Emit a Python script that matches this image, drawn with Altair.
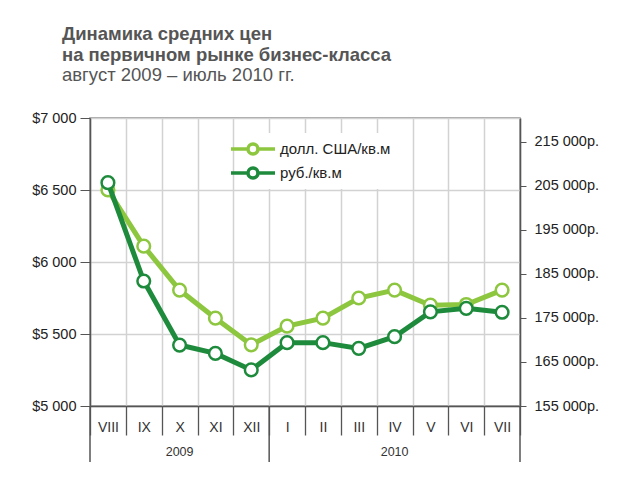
import altair as alt
import pandas as pd

# ---- data ----
months = ["VIII", "IX", "X", "XI", "XII", "I", "II", "III", "IV", "V", "VI", "VII"]
usd_values = [6500, 6110, 5805, 5610, 5425, 5555, 5610, 5750, 5805, 5700, 5705, 5805]
rub_values = [205750, 183400, 168850, 166950, 163200, 169400, 169400, 168100, 170750, 176400, 177200, 176300]
series_names = ["долл. США/кв.м", "руб./кв.м"]
years = ["2009", "2010"]
year_center_month = ["X", "IV"]
year_left_months = ["VIII", "I"]
year_right_months = ["VII"]
usd_ticks = [5000, 5500, 6000, 6500, 7000]
rub_ticks = [155000, 165000, 175000, 185000, 195000, 205000, 215000]

W, H = 430, 288
LIGHT = "#8dc63f"
DARK = "#1e8b3c"
FONT = "Liberation Sans"

usd_df = pd.DataFrame({"month": months, "value": usd_values, "series": series_names[0]})
rub_df = pd.DataFrame({"month": months, "value": rub_values, "series": series_names[1]})
year_df = pd.DataFrame({"month": year_center_month, "year": years})
sepL_df = pd.DataFrame({"month": year_left_months})
sepR_df = pd.DataFrame({"month": year_right_months})

x_axis = alt.Axis(
    tickBand="extent", grid=True, gridColor="#d2d2d2", gridWidth=1.5,
    tickSize=29, tickColor="#555", tickWidth=1.3, domainColor="#555", domainWidth=1.5,
    labelPadding=-8, labelBaseline="middle", labelFontSize=14, labelColor="#333",
    labelAngle=0, title=None,
)
x_scale = alt.Scale(type="band", paddingInner=0, paddingOuter=0)


def xenc(pos=0.5):
    return alt.X("month:N", sort=months, scale=x_scale, axis=x_axis, bandPosition=pos)


legend_path = "M-2.2,0H-0.5M0.5,0H2.2M0.5,0A0.5,0.5 0 1,1 -0.5,0A0.5,0.5 0 1,1 0.5,0"
legend = alt.Legend(
    orient="none", legendX=147, legendY=15, title=None,
    symbolType=legend_path, symbolSize=400, symbolStrokeWidth=3.5,
    symbolFillColor="white", labelFontSize=15, labelColor="#222", labelOffset=15,
    fillColor="white", padding=4, rowPadding=-4,
)
color = alt.Color("series:N", scale=alt.Scale(domain=series_names, range=[LIGHT, DARK]), legend=legend)

usd_y = alt.Y("value:Q", scale=alt.Scale(domain=[5000, 7000], nice=False, zero=False),
              axis=alt.Axis(orient="left", values=usd_ticks, grid=True, gridColor="#d2d2d2", gridWidth=1.5,
                            labelExpr="'$' + replace(format(datum.value, ','), ',', ' ')",
                            tickSize=10, tickColor="#555", domainColor="#555", domainWidth=1.5,
                            labelFontSize=14.5, labelColor="#222", labelPadding=4, title=None))
rub_y = alt.Y("value:Q", scale=alt.Scale(domain=[155000, 220450], nice=False, zero=False),
              axis=alt.Axis(orient="right", values=rub_ticks, grid=False,
                            labelExpr="replace(format(datum.value, ','), ',', ' ') + 'р.'",
                            tickSize=6, tickColor="#555", domainColor="#555", domainWidth=1.5,
                            labelFontSize=14.5, labelColor="#222", labelPadding=8, title=None))

usd_line = alt.Chart(usd_df).mark_line(strokeWidth=5).encode(x=xenc(), y=usd_y, color=color)
usd_pts = alt.Chart(usd_df).mark_point(filled=False, fill="white", fillOpacity=1, size=160, strokeWidth=2.5, opacity=1).encode(
    x=xenc(), y=usd_y, color=color)
rub_line = alt.Chart(rub_df).mark_line(strokeWidth=5).encode(x=xenc(), y=rub_y, color=color)
rub_pts = alt.Chart(rub_df).mark_point(filled=False, fill="white", fillOpacity=1, size=160, strokeWidth=2.5, opacity=1).encode(
    x=xenc(), y=rub_y, color=color)

sepL = alt.Chart(sepL_df).mark_rule(color="#555", strokeWidth=1.5).encode(
    x=xenc(0), y=alt.value(H), y2=alt.value(H + 56))
sepR = alt.Chart(sepR_df).mark_rule(color="#555", strokeWidth=1.5).encode(
    x=xenc(1), y=alt.value(H), y2=alt.value(H + 56))
year_text = alt.Chart(year_df).mark_text(fontSize=12.5, color="#333", baseline="middle").encode(
    x=xenc(), y=alt.value(H + 46), text="year:N")

usd_layer = alt.layer(usd_line, usd_pts)
rub_layer = alt.layer(rub_line, rub_pts)

chart = alt.layer(sepL, sepR, year_text, usd_layer, rub_layer).resolve_scale(y="independent").properties(
    width=W, height=H,
    autosize=alt.AutoSizeParams(type="none"),
    padding={"left": 82, "top": 110, "right": 100, "bottom": 60},
    title=alt.Title(
        text=["Динамика средних цен", "на первичном рынке бизнес-класса"],
        subtitle="август 2009 – июль 2010 гг.",
        anchor="start", frame="group", dx=-28, offset=26,
        fontSize=18.5, fontWeight="bold", color="#555", font=FONT, lineHeight=21,
        subtitleFontSize=18.5, subtitleColor="#555", subtitleFont=FONT, subtitlePadding=1,
        subtitleLineHeight=21,
    ),
).configure(font=FONT).configure_view(stroke="#888", strokeWidth=1.5)

chart.save("out.html", embed_options={"renderer": "svg", "actions": False})
